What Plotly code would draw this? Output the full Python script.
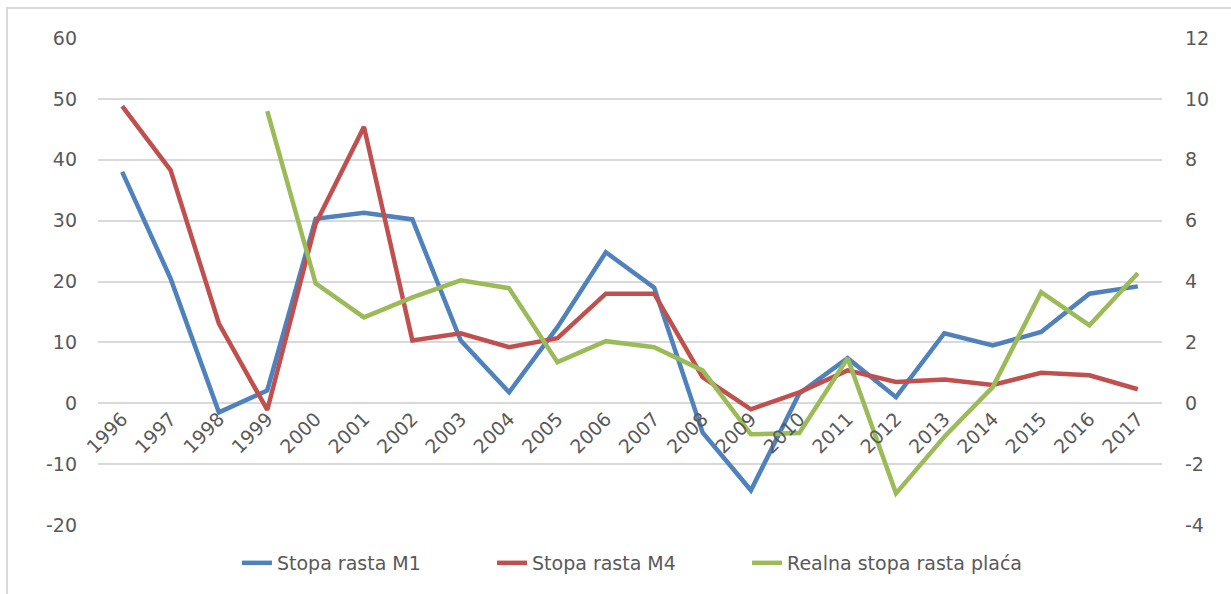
import plotly.graph_objects as go

years = [str(y) for y in range(1996, 2018)]
m1 = [38, 20.5, -1.5, 2.1, 30.3, 31.3, 30.2, 10.3, 1.8, 12.5, 24.8, 19, -4.8, -14.3, 1.6, 7.4, 1.0, 11.5, 9.5, 11.7, 18, 19.2]
m4 = [48.8, 38.3, 13.1, -1.1, 29.5, 45.4, 10.3, 11.5, 9.2, 10.7, 18, 18, 4.3, -1.0, 1.8, 5.4, 3.5, 3.9, 3.0, 5.0, 4.6, 2.3]
place = [None, None, None, 9.6, 3.94, 2.82, 3.48, 4.04, 3.78, 1.35, 2.04, 1.84, 1.08, -1.02, -0.98, 1.48, -2.96, -1.1, 0.53, 3.65, 2.56, 4.27]
left_ticks = [-20, -10, 0, 10, 20, 30, 40, 50, 60]
right_ticks = [-4, -2, 0, 2, 4, 6, 8, 10, 12]

FONT = "DejaVu Sans"
TXT = "#595959"
GRID = "#D9D9D9"
FS = 19

fig = go.Figure()
fig.add_trace(go.Scatter(x=years, y=m1, mode="lines", name="Stopa rasta M1",
                         line=dict(color="#4F81BD", width=4.5), legend="legend"))
fig.add_trace(go.Scatter(x=years, y=m4, mode="lines", name="Stopa rasta M4",
                         line=dict(color="#C0504D", width=4.5), legend="legend2"))
fig.add_trace(go.Scatter(x=years, y=place, mode="lines", name="Realna stopa rasta plaća",
                         line=dict(color="#9BBB59", width=4.5), yaxis="y2", connectgaps=False,
                         legend="legend3"))

def leg(x):
    return dict(orientation="h", x=x, xanchor="left", y=-0.078, yanchor="middle",
                font=dict(family=FONT, size=FS, color=TXT), bgcolor="rgba(0,0,0,0)")

fig.update_layout(
    width=1231, height=594,
    paper_bgcolor="white", plot_bgcolor="white",
    margin=dict(l=98, r=69, t=38, b=69, autoexpand=False),
    font=dict(family=FONT, size=FS, color=TXT),
    showlegend=True,
    legend=leg(0.1306), legend2=leg(0.3703), legend3=leg(0.6100),
    xaxis=dict(type="category", range=[-0.5, 21.5], anchor="free", position=0.25,
               showgrid=False, showline=False, zeroline=False, ticks="",
               tickangle=-45, tickfont=dict(family=FONT, size=FS, color=TXT)),
    yaxis=dict(range=[-20, 60], tickvals=left_ticks, ticktext=[str(v) for v in left_ticks],
               showgrid=True, gridcolor=GRID, gridwidth=1.5,
               zeroline=False, showline=False, ticks="", ticklabelstandoff=20,
               tickfont=dict(family=FONT, size=FS, color=TXT)),
    yaxis2=dict(range=[-4, 12], tickvals=right_ticks, ticktext=[str(v) for v in right_ticks],
                overlaying="y", side="right", showgrid=False,
                zeroline=False, showline=False, ticks="", ticklabelstandoff=22,
                tickfont=dict(family=FONT, size=FS, color=TXT)),
    shapes=[dict(type="rect", xref="paper", yref="paper",
                 x0=-0.0855, x1=1.08, y0=-0.16, y1=1.0616,
                 line=dict(color=GRID, width=2), fillcolor="rgba(0,0,0,0)", layer="below")],
)

fig.write_html("out.html", config={"displayModeBar": False},
               post_script="document.body.style.margin='0';document.body.style.overflow='hidden';")
